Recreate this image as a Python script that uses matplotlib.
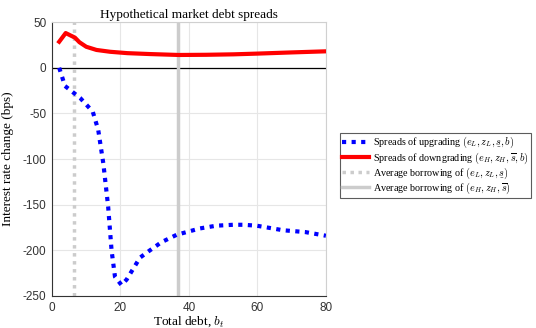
import matplotlib
matplotlib.use('Agg')
import matplotlib.pyplot as plt

plt.rcParams['mathtext.fontset'] = 'cm'
plt.rcParams['axes.unicode_minus'] = False

# values
up_x = [2.1, 3.8, 5.5, 8.2, 11.9, 13.5, 15.0, 16.4, 17.4, 18.4, 20.3, 21.8, 25.7, 28.6, 32.0, 36.4, 43.2, 48.0, 52.9, 56.0, 59.8, 67.5, 74.0, 80.0]
up_y = [0, -20, -25, -33, -48, -68, -105, -152, -200, -229, -238, -232, -208, -200, -191, -183, -176, -173, -172, -172, -173, -178, -180, -184]

down_x = [2.1, 4.0, 6.7, 8.0, 10.0, 13.0, 17.0, 22.0, 28.6, 37.0, 45.0, 53.0, 60.0, 70.0, 80.0]
down_y = [28.5, 38, 33, 28, 23, 19.5, 17.5, 16, 15, 14, 14.2, 14.7, 15.5, 16.8, 18]

avg_low = 6.4
avg_high = 36.7

labels = [r'Spreads of upgrading $(e_L, z_L, \underset{\_}{s}, b)$',
          r'Spreads of downgrading $(e_H, z_H, \overline{s}, b)$',
          r'Average borrowing of $(e_L, z_L, \underset{\_}{s})$',
          r'Average borrowing of $(e_H, z_H, \overline{s})$']

serif = 'Liberation Serif'
sans = 'Liberation Sans'
fig = plt.figure(figsize=(5.36, 3.28), dpi=100)
ax = fig.add_axes([0.097, 0.0976, 0.511, 0.835])

ax.grid(True, color='#e6e6e6', linewidth=0.8)
ax.set_axisbelow(True)
ax.axhline(0, color='black', linewidth=0.9, zorder=1)

ax.plot(up_x, up_y, color='#0000ff', linestyle=(0, (1, 1.3)), linewidth=3, label=labels[0], zorder=3)
ax.plot(down_x, down_y, color='#ff0000', linewidth=3, label=labels[1], zorder=3)
ax.axvline(avg_low, color='#cccccc', linestyle=(0, (1, 1.3)), linewidth=2.5, label=labels[2], zorder=2)
ax.axvline(avg_high, color='#cccccc', linewidth=2.5, label=labels[3], zorder=2)

ax.set_xlim(0, 80)
ax.set_ylim(-250, 50)
ax.set_xticks([0, 20, 40, 60, 80])
ax.set_yticks([-250, -200, -150, -100, -50, 0, 50])
ax.tick_params(labelsize=8.5, colors='#333333', length=0, pad=4)
for lab in ax.get_xticklabels() + ax.get_yticklabels():
    lab.set_family(sans)
for sp in ax.spines.values():
    sp.set_color('#d0d0d0')
ax.spines['left'].set_color('#333333')
ax.spines['bottom'].set_color('#333333')

ax.set_title('Hypothetical market debt spreads', fontsize=9.5, family=serif, pad=3)
ax.set_xlabel(r'Total debt, $b_t$', fontsize=9.5, family=serif, labelpad=1)
ax.set_ylabel('Interest rate change (bps)', fontsize=9.5, family=serif, labelpad=6)

h, l = ax.get_legend_handles_labels()
leg = fig.legend(h, l, loc='upper left', bbox_to_anchor=(340 / 536, 1 - 133 / 328), prop={'family': serif, 'size': 7.3},
                 fancybox=False, edgecolor='#333333', handlelength=2.7, borderpad=0.2, labelspacing=0.0,
                 handletextpad=0.4, borderaxespad=0)
leg.get_frame().set_linewidth(0.8)

fig.savefig('out.png', dpi=100)
